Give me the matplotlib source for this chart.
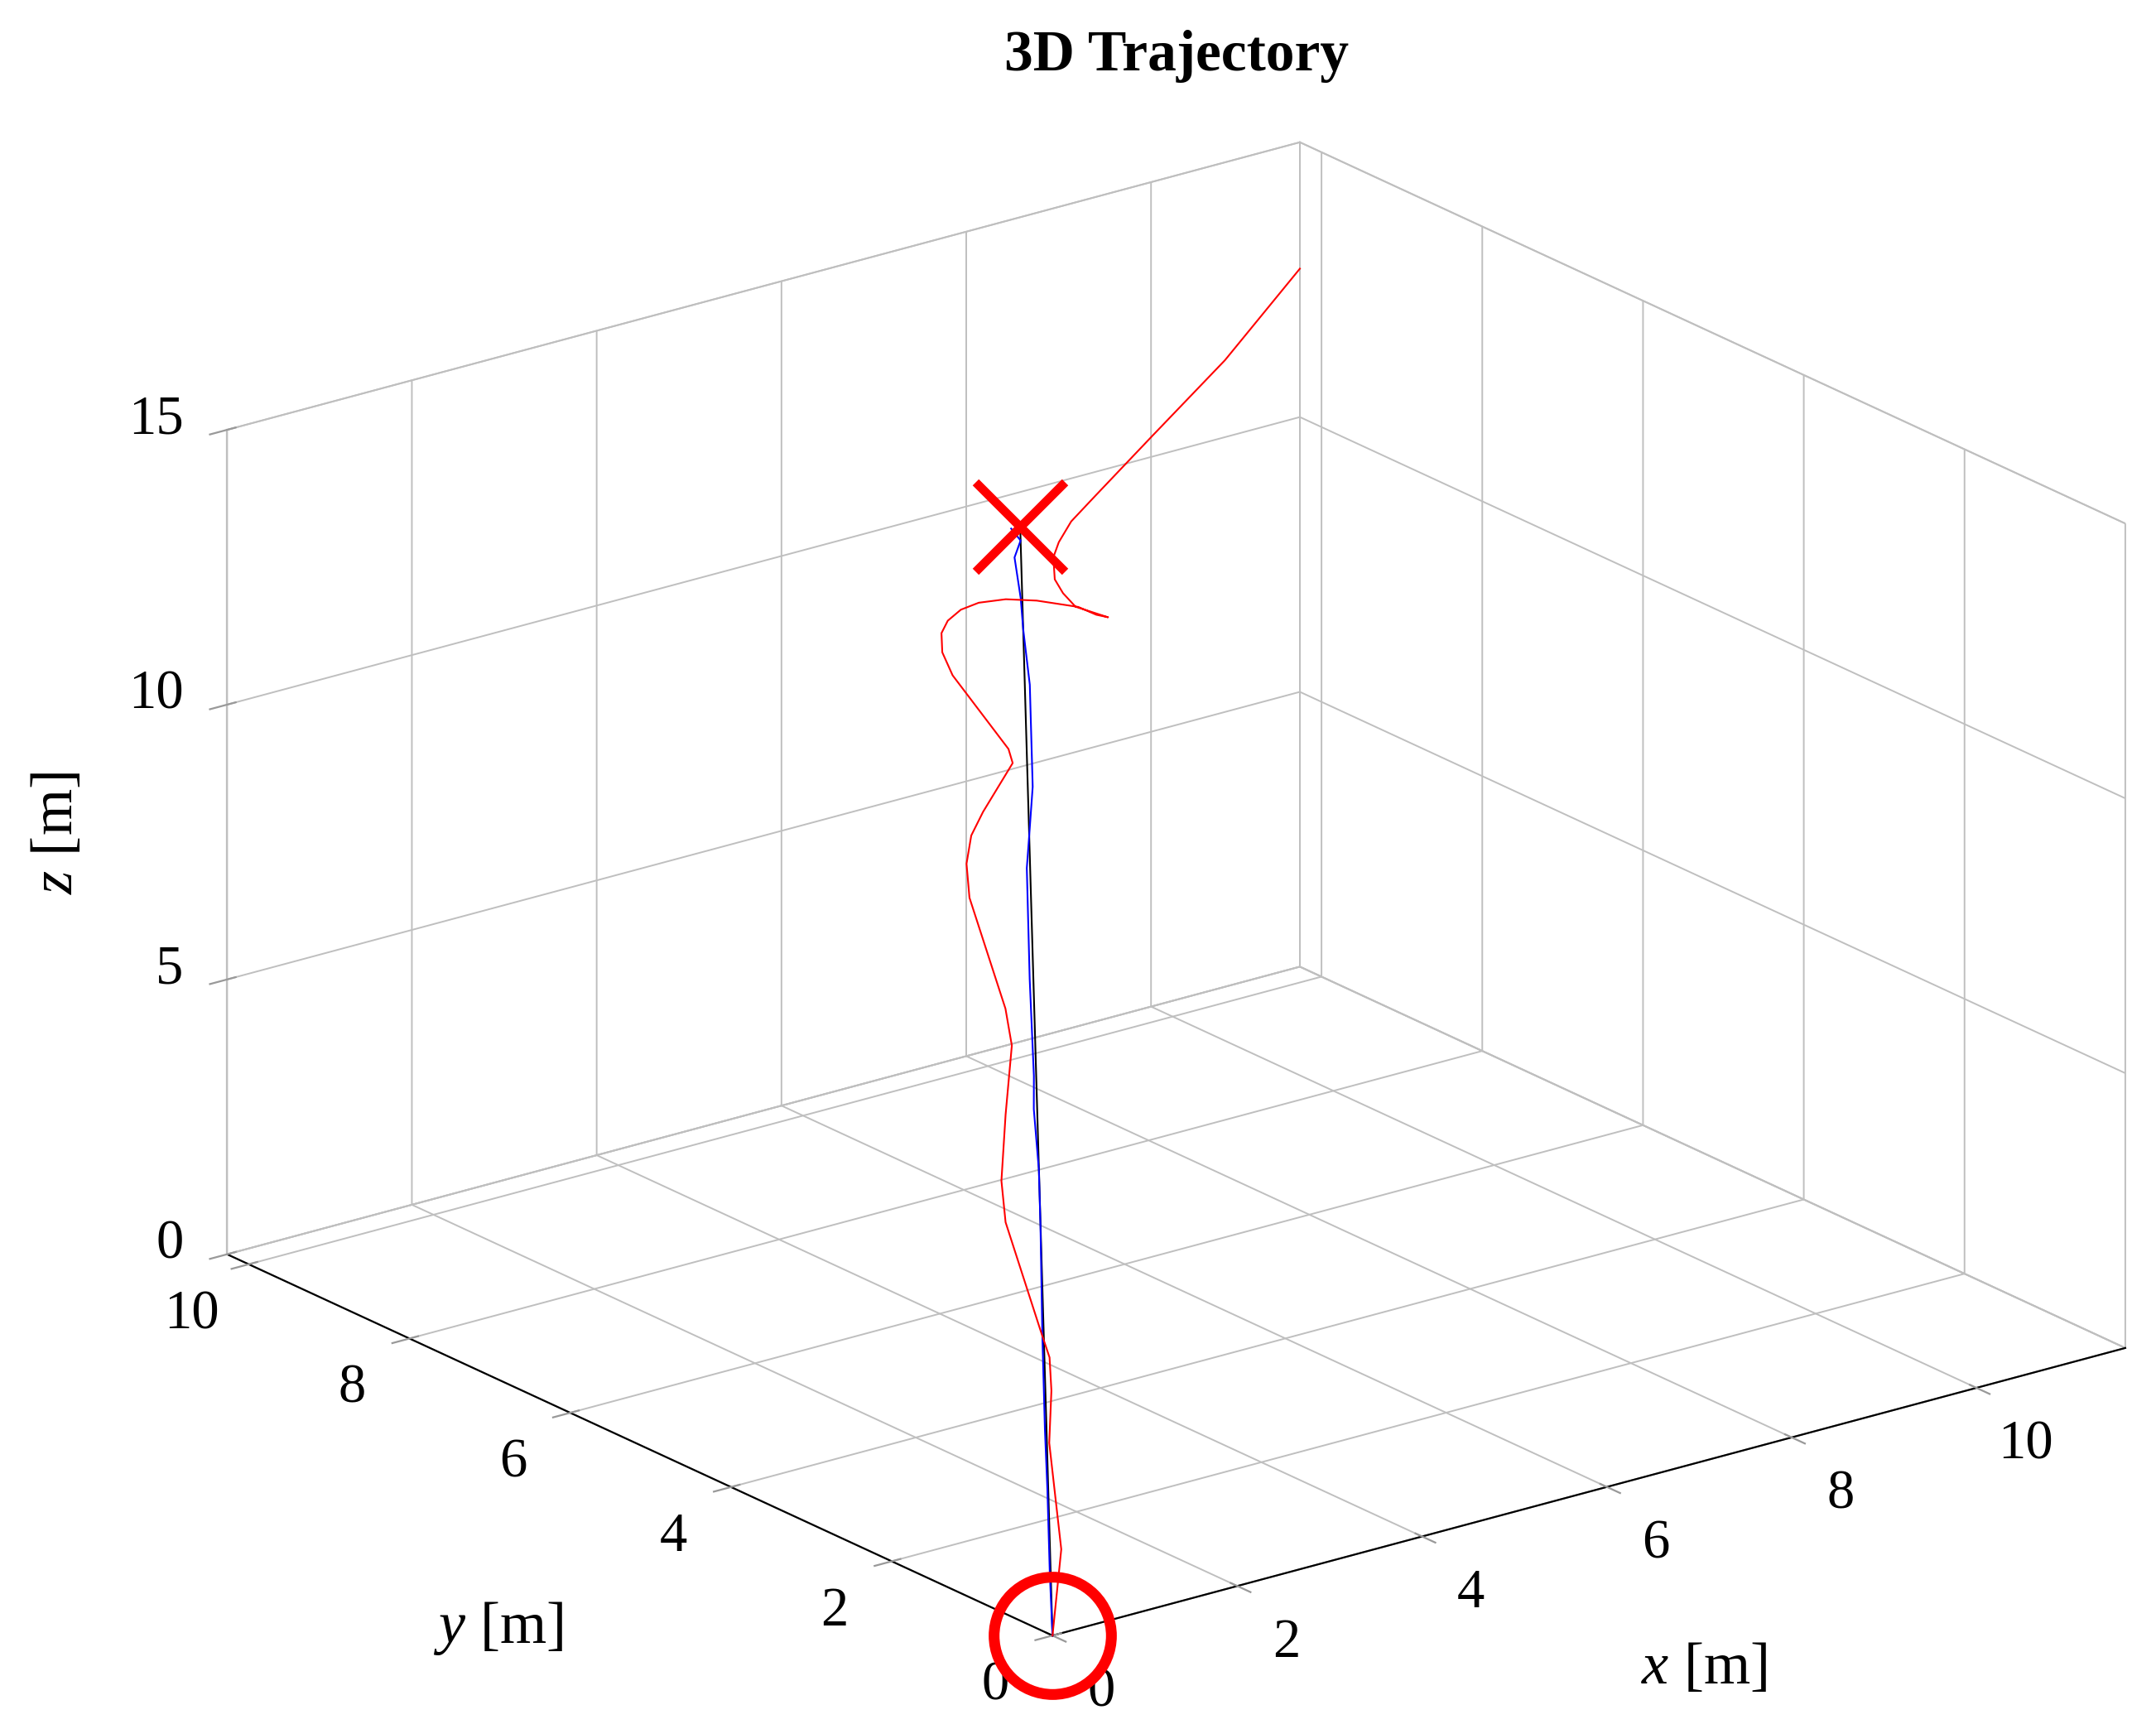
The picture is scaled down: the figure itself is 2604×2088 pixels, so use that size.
import matplotlib
matplotlib.use('Agg')
import matplotlib.pyplot as plt
import numpy as np
from mpl_toolkits.mplot3d import proj3d

plt.rcParams['font.family'] = ['Liberation Serif', 'DejaVu Serif']
plt.rcParams['mathtext.fontset'] = 'custom'
plt.rcParams['mathtext.rm'] = 'Liberation Serif'
plt.rcParams['mathtext.it'] = 'Liberation Serif:italic'
plt.rcParams['grid.color'] = '#bfbfbf'
plt.rcParams['grid.linewidth'] = 0.7

# reference path: start -> goal
ref_x = [0.0, 4.0]
ref_y = [0.0, 5.0]
ref_z = [0.0, 15.0]

# tracked path (blue)
track_x = [0, 0.221, 0.519, 0.732, 1.074, 1.480, 1.680, 1.875, 2.002, 2.342,
           2.744, 2.905, 3.094, 3.462, 3.628, 3.729, 3.843, 3.948, 3.930]
track_y = [0, 0.288, 0.660, 0.936, 1.361, 1.851, 2.101, 2.388, 2.533, 2.976,
           3.474, 3.625, 3.803, 4.262, 4.535, 4.682, 4.890, 4.935, 5.032]
track_z = [0, 0.85, 1.97, 2.79, 4.06, 5.55, 6.30, 7.12, 7.57, 8.88,
           10.38, 10.88, 11.48, 12.86, 13.61, 14.03, 14.58, 14.81, 14.97]

# disturbed path (red)
dist_x = [0, 0.388, 0.711, 0.925, 1.038, 1.080, 1.252, 1.381, 1.661, 1.967,
          2.064, 2.240, 2.349, 2.489, 2.659, 3.048, 3.073, 2.971, 2.988, 3.055,
          3.146, 3.277, 3.426, 3.624, 3.831, 4.091, 4.184, 4.255, 4.073, 4.039,
          4.035, 4.109, 4.204, 4.586, 5.194, 6.895, 9.089, 11.611]
dist_y = [0, 0.337, 0.858, 1.077, 1.230, 1.393, 2.023, 2.223, 2.493, 2.767,
          2.958, 3.608, 3.770, 3.872, 3.921, 3.999, 4.080, 4.658, 4.806, 4.893,
          4.919, 4.907, 4.856, 4.747, 4.600, 4.382, 4.265, 4.200, 4.395, 4.512,
          4.610, 4.713, 4.754, 5.039, 5.448, 6.686, 8.302, 10.269]
dist_z = [0, 1.167, 2.605, 3.313, 3.761, 4.134, 5.589, 6.149, 7.044, 7.979,
          8.478, 9.978, 10.437, 10.818, 11.138, 11.799, 11.989, 12.985, 13.296, 13.556,
          13.724, 13.873, 13.967, 14.015, 13.996, 13.911, 13.806, 13.772, 13.914, 14.097,
          14.284, 14.582, 14.787, 14.8, 14.7, 14.2, 13.5, 12.7]

x_ticks = [0, 2, 4, 6, 8, 10]
y_ticks = [0, 2, 4, 6, 8, 10]
z_ticks = [0, 5, 10, 15]

fig = plt.figure(figsize=(13.02, 10.44), dpi=200)
ax = fig.add_axes([0.1391, -0.0210, 0.7915, 0.9871], projection='3d')
ax.set_proj_type('ortho')
ax.view_init(elev=20.6, azim=-127.3)
ax.set_box_aspect((1, 1.01, 0.653), zoom=1.2)
ax.computed_zorder = False

xmax, ymax, zmax = max(dist_x), max(dist_y), 15
ax.set_xlim(0, xmax)
ax.set_ylim(0, ymax)
ax.set_zlim(0, zmax)

# panes: white, light gray edges
for axis in (ax.xaxis, ax.yaxis, ax.zaxis):
    axis.pane.set_facecolor((1, 1, 1, 0))
    axis.pane.set_edgecolor('#bfbfbf')
    axis.pane.set_alpha(None)
    axis.pane.set_linewidth(0.7)
ax.xaxis.line.set_color('black')
ax.yaxis.line.set_color('black')
ax.zaxis.line.set_color('#bfbfbf')
ax.xaxis.line.set_linewidth(0.8)
ax.yaxis.line.set_linewidth(0.8)

ax.set_xticks(x_ticks)
ax.set_yticks(y_ticks)
ax.set_zticks(z_ticks)
for axis in (ax.xaxis, ax.yaxis, ax.zaxis):
    axis.set_tick_params(labelbottom=False, color='#999999', width=0.4)

# trajectories
ax.plot(ref_x, ref_y, ref_z, color='black', lw=0.75, zorder=2)
ax.plot(track_x, track_y, track_z, color='blue', lw=0.75, zorder=3)
ax.plot(dist_x, dist_y, dist_z, color='red', lw=0.75, zorder=4)

# start / goal markers
ax.plot([ref_x[0]], [ref_y[0]], [ref_z[0]], marker='o', ms=51, mfc='none',
        mec='red', mew=4.7, zorder=5)
ax.plot([ref_x[-1]], [ref_y[-1]], [ref_z[-1]], marker='x', ms=39,
        mec='red', mew=3.8, zorder=5)

# tick labels in pgfplots style: project the 3D anchor, draw as 2D text
M = ax.get_proj()


def tick_label(x, y, z, s, **kw):
    px, py, _ = proj3d.proj_transform(x, y, z, M)
    ax.text2D(px, py, s, transform=ax.transData, fontsize=24, **kw)


for t in x_ticks:
    tick_label(t, -0.61, -0.63, str(t), ha='center', va='center')
for t in y_ticks:
    tick_label(-0.62, t, -0.64, str(t), ha='center', va='center')
for t in z_ticks:
    tick_label(-0.15, ymax + 0.37, t, str(t), ha='right', va='center')

fig.text(0.7903, 0.0345, r'$x$ [m]', ha='center', va='center', fontsize=26)
fig.text(0.2312, 0.0584, r'$y$ [m]', ha='center', va='center', fontsize=26)
fig.text(0.0265, 0.5182, r'$z$ [m]', ha='center', va='center', fontsize=26,
         rotation=90)

fig.text(0.5457, 0.9593, '3D Trajectory', ha='center', va='baseline',
         fontsize=25, fontweight='bold')

fig.savefig('out.png', dpi=200)
